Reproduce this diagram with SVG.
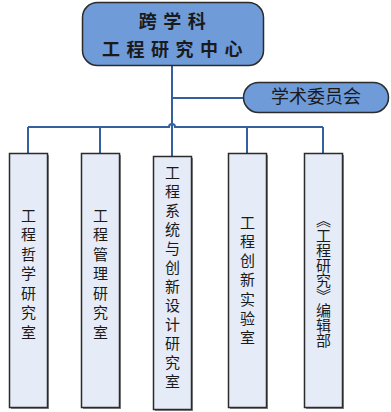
<svg xmlns="http://www.w3.org/2000/svg" width="391" height="412" viewBox="0 0 391 412">
<style>
.ln{fill:none;stroke:#34609f;stroke-width:2}
.hd{fill:#6f9bd9;stroke:#2b2b2b;stroke-width:1.5}
.bx{fill:#e6ecf7;stroke:#2b2b2b;stroke-width:1.5}
.sh{fill:#8a8a8a}
.t{font-family:"Noto Sans CJK SC","Noto Sans",sans-serif;fill:#1a1a1a}
.ti{font-size:18px;font-weight:bold;letter-spacing:6.5px}
.vt{font-size:15px;writing-mode:vertical-rl}
</style>
<rect width="391" height="412" fill="#ffffff"/>
<g id="connectors">
<path class="ln" d="M172,66 V156"/>
<path class="ln" d="M172,98 H243"/>
<path class="ln" d="M28,127 H169 A3,3 0 0 1 175,127 H323"/>
<path class="ln" d="M28,127 V153 M100,127 V153 M247,127 V153 M323,127 V153"/>
</g>
<g id="center">
<rect class="hd" x="82.5" y="2.5" width="181" height="63" rx="15"/>
<text class="t ti" x="175.5" y="28" text-anchor="middle">跨学科</text>
<text class="t ti" x="175.5" y="56" text-anchor="middle">工程研究中心</text>
</g>
<g id="committee">
<rect class="hd" x="243.5" y="82.5" width="145" height="30" rx="15"/>
<text class="t" x="316" y="103" font-size="18" text-anchor="middle">学术委员会</text>
</g>
<g id="n1">
<rect class="sh" x="11" y="155" width="38" height="254"/>
<rect class="bx" x="9.5" y="153.5" width="38" height="254"/>
<text class="t vt" x="28.5" y="207.5" letter-spacing="4.5">工程哲学研究室</text>
</g>
<g id="n2">
<rect class="sh" x="83" y="155" width="38" height="254"/>
<rect class="bx" x="81.5" y="153.5" width="38" height="254"/>
<text class="t vt" x="100.5" y="207.5" letter-spacing="4.5">工程管理研究室</text>
</g>
<g id="n3">
<rect class="sh" x="155" y="158" width="38" height="253"/>
<rect class="bx" x="153.5" y="156.5" width="38" height="253"/>
<text class="t vt" x="172.5" y="164.5" letter-spacing="4">工程系统与创新设计研究室</text>
</g>
<g id="n4">
<rect class="sh" x="230" y="155" width="38" height="254"/>
<rect class="bx" x="228.5" y="153.5" width="38" height="254"/>
<text class="t vt" x="247.5" y="214.5" letter-spacing="4.2">工程创新实验室</text>
</g>
<g id="n5">
<rect class="sh" x="306" y="155" width="38" height="254"/>
<rect class="bx" x="304.5" y="153.5" width="38" height="254"/>
<text class="t vt" x="323.5" y="213">《工程研究》编辑部</text>
</g>
</svg>
